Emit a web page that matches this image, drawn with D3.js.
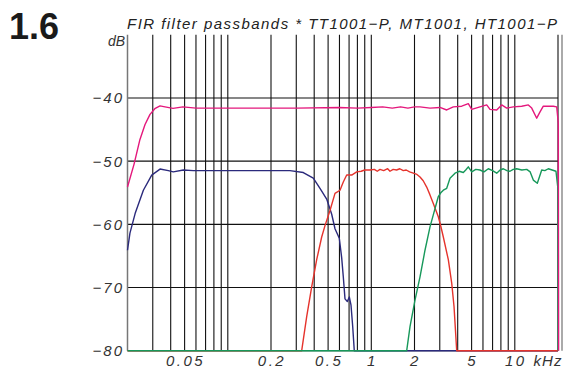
<!DOCTYPE html>
<html>
<head>
<meta charset="utf-8">
<script src="https://cdn.jsdelivr.net/npm/d3@7"></script>
<style>
  html, body { margin: 0; padding: 0; background: #fff; }
  svg text { font-family: "Liberation Sans", Arial, sans-serif; }
</style>
</head>
<body>
<script>
'use strict';

// frequency in kHz, level in dB
const woofer = [
  [0.02, -64.1], [0.0208, -61.4], [0.0226, -58.3], [0.0258, -54.6], [0.0295, -52.2],
  [0.0337, -51.25], [0.0385, -51.5], [0.0417, -51.7], [0.049, -51.4], [0.0575, -51.5],
  [0.1, -51.5], [0.2, -51.5], [0.2712, -51.5], [0.3358, -51.8], [0.3942, -52.7],
  [0.4389, -54.3], [0.4888, -56.0], [0.5297, -58.4], [0.5585, -60.7], [0.5984, -62.2],
  [0.6218, -65.3], [0.638, -68.3], [0.6557, -71.8], [0.6805, -72.2], [0.7026, -71.5],
  [0.7221, -72.8], [0.7421, -76.2], [0.7611, -80], [20, -80]
];

const midrange = [
  [0.02, -80], [0.3273, -80], [0.3546, -74.6], [0.3842, -69.9], [0.4163, -65.6],
  [0.4511, -62.0], [0.4757, -60.2], [0.5154, -57.8], [0.5585, -55.1], [0.6052, -54.6],
  [0.638, -53.3], [0.6739, -52.2], [0.7302, -52.2], [0.7911, -51.7], [0.85, -51.6],
  [0.9, -51.4], [0.979, -51.4], [1.05, -51.3], [1.1, -51.6], [1.15, -51.3],
  [1.22, -51.5], [1.3, -51.2], [1.35, -51.6], [1.42, -51.3], [1.5, -51.4],
  [1.58, -51.2], [1.671, -51.5], [1.75, -51.4], [1.85, -51.7], [1.962, -51.9],
  [2.08, -52.1], [2.185, -52.5], [2.3, -53.1], [2.432, -54.1], [2.56, -55.3],
  [2.704, -56.7], [2.931, -58.8], [3.05, -60.3], [3.176, -62.0], [3.441, -65.6],
  [3.634, -69.3], [3.771, -73.0], [3.937, -80], [20, -80]
];

const tweeter = [
  [0.02, -80], [1.765, -80], [1.861, -76.2], [2.016, -72.0], [2.185, -68.3],
  [2.367, -64.1], [2.565, -60.4], [2.704, -58.5], [2.931, -55.6], [3.05, -55.0],
  [3.176, -54.6], [3.353, -54.3], [3.535, -52.7], [3.831, -51.9], [4.1, -51.6],
  [4.377, -51.8], [4.55, -51.4], [4.742, -50.9], [5.008, -51.7], [5.35, -51.3],
  [5.72, -51.4], [6.1, -51.7], [6.537, -51.2], [7.0, -51.5], [7.479, -51.9],
  [7.9, -51.4], [8.318, -51.2], [8.8, -51.5], [9.26, -51.6], [9.75, -51.3],
  [10.31, -51.2], [11.2, -51.4], [12.11, -51.3], [12.8, -51.7], [13.46, -53.0],
  [14.35, -53.5], [14.9, -52.4], [15.4, -51.4], [16.2, -51.5], [17.12, -51.2],
  [18.2, -51.4], [19.36, -51.6], [19.9, -54], [20.0, -80]
];

const fullRange = [
  [0.02, -54.1], [0.0222, -50.5], [0.0244, -46.6], [0.0265, -44.2], [0.0287, -42.6],
  [0.031, -41.7], [0.0337, -41.25], [0.0365, -41.4], [0.0415, -41.65], [0.0487, -41.4],
  [0.06, -41.6], [0.1, -41.6], [0.3, -41.6], [0.6, -41.5], [0.8, -41.6],
  [1.0, -41.5], [1.2, -41.4], [1.4, -41.6], [1.6, -41.4], [1.8, -41.6],
  [2.0, -41.4], [2.185, -41.4], [2.565, -41.6], [3.011, -41.5], [3.353, -41.9],
  [3.729, -41.4], [4.266, -41.3], [4.742, -40.9], [5.008, -41.8], [5.72, -41.4],
  [6.372, -41.1], [6.718, -41.8], [7.479, -41.9], [8.104, -41.1], [8.782, -41.6],
  [9.761, -41.4], [11.17, -41.3], [12.42, -41.1], [13.12, -41.6], [14.21, -43.2],
  [14.99, -42.2], [15.8, -41.3], [18.55, -41.3], [19.59, -41.4], [20.1, -44],
  [20.2, -80]
];

const yTicks = [-40, -50, -60, -70, -80];
const xLabels = [0.05, 0.2, 0.5, 1, 2, 5, 10];

const W = 566, H = 371;
const svg = d3.select('body').append('svg')
  .attr('width', W)
  .attr('height', H);

const x = d3.scaleLog().domain([0.02, 20]).range([127.5, 558]);
const y = d3.scaleLinear().domain([-80, -30]).range([350.7, 34.8]);

// figure number and title
svg.append('text')
  .attr('x', 9).attr('y', 39)
  .attr('font-size', 36).attr('font-weight', 'bold')
  .attr('fill', '#1a1a1a')
  .text('1.6');

svg.append('text')
  .attr('x', 127).attr('y', 28.5)
  .attr('font-size', 15).attr('font-style', 'italic')
  .attr('fill', '#222')
  .attr('textLength', 430).attr('lengthAdjust', 'spacing')
  .text('FIR filter passbands * TT1001\u2212P, MT1001, HT1001\u2212P');

svg.append('text')
  .attr('x', 125).attr('y', 46)
  .attr('text-anchor', 'end')
  .attr('font-size', 14).attr('font-style', 'italic')
  .attr('fill', '#333')
  .text('dB');

// grid
const grid = svg.append('g');
grid.selectAll('line.v')
  .data(x.ticks().filter(d => d > 0.0201))
  .enter().append('line')
  .attr('x1', d => x(d)).attr('x2', d => x(d))
  .attr('y1', y(-30)).attr('y2', y(-80))
  .attr('stroke', '#111').attr('stroke-width', 1.1);

grid.selectAll('line.h')
  .data(yTicks)
  .enter().append('line')
  .attr('x1', x(0.02)).attr('x2', x(20))
  .attr('y1', d => y(d)).attr('y2', d => y(d))
  .attr('stroke', '#111').attr('stroke-width', 1.1);

// left axis + right border
svg.append('line')
  .attr('x1', x(0.02)).attr('x2', x(0.02))
  .attr('y1', y(-30)).attr('y2', y(-80))
  .attr('stroke', '#777').attr('stroke-width', 1.5);
svg.append('line')
  .attr('x1', x(20) + 4).attr('x2', x(20) + 4)
  .attr('y1', y(-30)).attr('y2', y(-80))
  .attr('stroke', '#aaa').attr('stroke-width', 2);

// tick labels
svg.append('g').selectAll('text')
  .data(yTicks)
  .enter().append('text')
  .attr('x', 124)
  .attr('y', d => y(d) + 5.5)
  .attr('text-anchor', 'end')
  .attr('font-size', 15).attr('font-style', 'italic')
  .attr('letter-spacing', 2)
  .attr('fill', '#333')
  .text(d => '\u2212' + Math.abs(d));

svg.append('g').selectAll('text')
  .data(xLabels)
  .enter().append('text')
  .attr('x', d => x(d) + 1)
  .attr('y', 366)
  .attr('text-anchor', 'middle')
  .attr('font-size', 15).attr('font-style', 'italic')
  .attr('letter-spacing', 2.5)
  .attr('fill', '#333')
  .text(d => String(d));

svg.append('text')
  .attr('x', 548).attr('y', 366)
  .attr('text-anchor', 'middle')
  .attr('font-size', 15).attr('font-style', 'italic')
  .attr('letter-spacing', 1)
  .attr('fill', '#333')
  .text('kHz');

// curves
const line = d3.line()
  .x(d => x(d[0]))
  .y(d => y(d[1]));

const series = [
  {data: woofer, color: '#2b2a7c'},
  {data: midrange, color: '#e5332c'},
  {data: tweeter, color: '#17985a'},
  {data: fullRange, color: '#e4187c'}
];

svg.append('g').selectAll('path')
  .data(series)
  .enter().append('path')
  .attr('d', d => line(d.data))
  .attr('fill', 'none')
  .attr('stroke', d => d.color)
  .attr('stroke-width', 1.4)
  .attr('stroke-linejoin', 'round');
</script>
</body>
</html>
